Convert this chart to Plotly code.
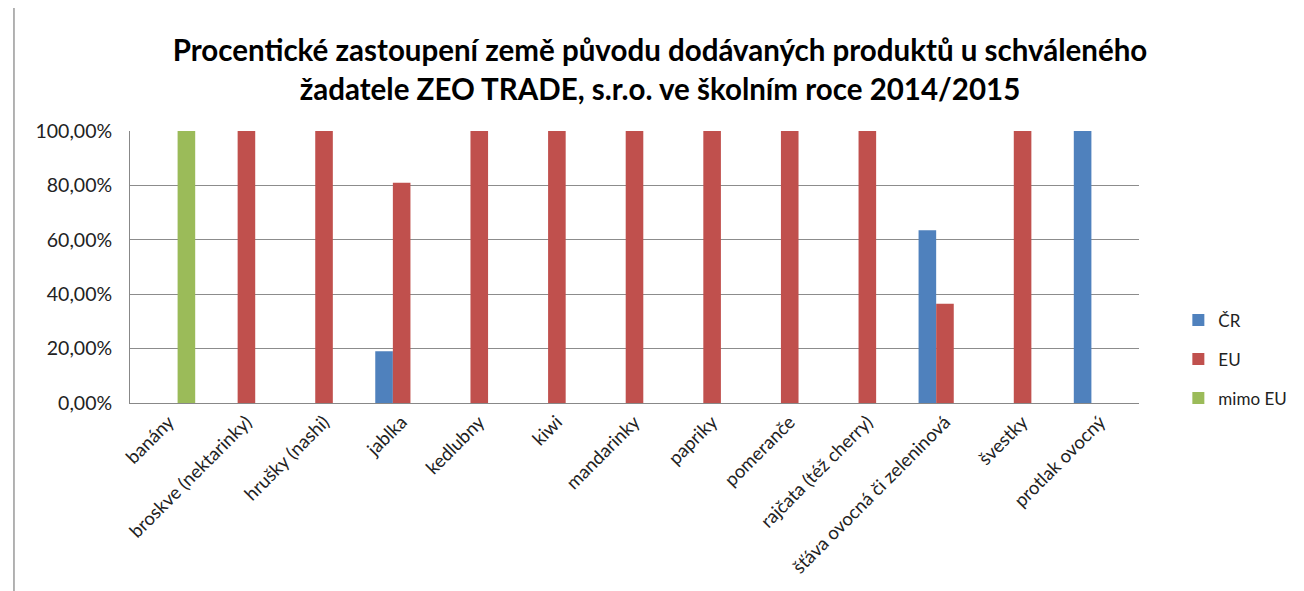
import plotly.graph_objects as go

categories = ["banány", "broskve (nektarinky)", "hrušky (nashi)", "jablka", "kedlubny", "kiwi",
              "mandarinky", "papriky", "pomeranče", "rajčata (též cherry)",
              "šťáva ovocná či zeleninová", "švestky", "protlak ovocný"]
cr = [None, None, None, 0.19, None, None, None, None, None, None, 0.635, None, 1.0]
eu = [None, 1.0, 1.0, 0.81, 1.0, 1.0, 1.0, 1.0, 1.0, 1.0, 0.365, 1.0, None]
mimo_eu = [1.0, None, None, None, None, None, None, None, None, None, None, None, None]
series_names = ["ČR", "EU", "mimo EU"]
colors = ["#4F81BD", "#C0504D", "#9BBB59"]
y_ticks = [0, 0.2, 0.4, 0.6, 0.8, 1.0]

FONT = "Lato"
fig = go.Figure()
for name, vals, col in zip(series_names, [cr, eu, mimo_eu], colors):
    fig.add_trace(go.Bar(x=categories, y=vals, name=name, marker_color=col,
                         marker_line_width=0, legendgroup=name))

fig.update_layout(
    width=1304, height=591,
    margin=dict(l=122, r=173, t=123, b=196),
    paper_bgcolor="white", plot_bgcolor="white",
    separators=", ",
    barmode="group", bargap=0.32, bargroupgap=0,
    font=dict(family=FONT, size=17, color="#222"),
    title=dict(text="Procentické zastoupení země původu dodávaných produktů u schváleného<br>žadatele ZEO TRADE, s.r.o. ve školním roce 2014/2015",
               x=0.5, xanchor="center", y=0.91, yanchor="top",
               font=dict(family=FONT, size=29.5, color="#000", weight="bold")),
    legend=dict(x=1.039, xanchor="left", y=0.37, yanchor="top",
                font=dict(family=FONT, size=17, color="#222"),
                tracegroupgap=14, itemwidth=30, bgcolor="rgba(0,0,0,0)"),
    showlegend=True,
)
fig.update_xaxes(tickangle=-45, showline=True, linecolor="#888", linewidth=1,
                 tickfont=dict(family=FONT, size=18.5, color="#222"), ticks="", showgrid=False)
fig.update_yaxes(range=[0, 1.0], tickvals=y_ticks, tickformat=".2%", showgrid=True,
                 gridcolor="#8c8c8c", gridwidth=1, showline=True, linecolor="#888",
                 tickfont=dict(family=FONT, size=19.5, color="#222"), ticks="", zeroline=False,
                 ticklabelstandoff=13)
fig.add_shape(type="line", xref="paper", yref="paper", x0=-0.115, x1=-0.115, y0=-1, y1=1.5,
              line=dict(color="#999", width=1.5))
fig.write_html("out.html")
